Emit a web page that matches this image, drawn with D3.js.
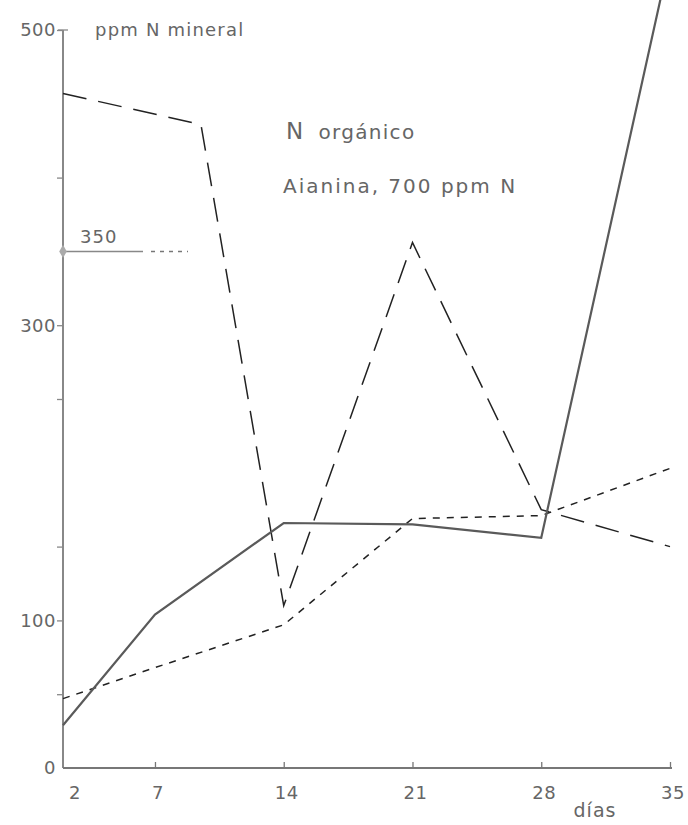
<!DOCTYPE html>
<html>
<head>
<meta charset="utf-8">
<script src="https://cdn.jsdelivr.net/npm/d3@7"></script>
<style>
  body { margin: 0; background: #fff; }
  svg { display: block; }
  .lbl { font-family: "DejaVu Sans", sans-serif; fill: #666; }
</style>
</head>
<body>
<div id="graph"></div>
<script>
// days (x) and ppm N mineral (y)
let solidDays = [2, 7, 14, 21, 28, 35];
let solidVals = [29, 104, 166, 165, 156, 550];

let shortDays = [2, 7, 14, 21, 28, 35];
let shortVals = [47, 68, 97, 169, 171, 203];

let longDays = [2, 9.5, 14, 21, 28, 35];
let longVals = [457, 436, 110, 356, 175, 150];

let xTicks = [2, 7, 14, 21, 28, 35];
let yTicks = [50, 100, 150, 250, 300, 400, 500];
let yLabels = [0, 100, 300, 500];
let refValue = 350;

window.addEventListener("load", initGraph);

function initGraph() {
    let width = 688, height = 825;

    let svg = d3.select("#graph").append("svg")
        .attr("width", width)
        .attr("height", height);

    let x = d3.scaleLinear().domain([2, 35]).range([63, 670]);
    let y = d3.scaleLinear().domain([0, 500]).range([768, 30]);

    // y axis
    let yAxis = d3.axisLeft(y)
        .tickValues(yTicks)
        .tickSize(6)
        .tickFormat("");
    let gy = svg.append("g")
        .attr("transform", `translate(${x(2)},0)`)
        .call(yAxis);
    gy.select(".domain").remove();
    gy.selectAll(".tick line").attr("stroke", "#888").attr("stroke-width", 1.3);

    svg.append("line")
        .attr("x1", x(2)).attr("x2", x(2))
        .attr("y1", y(0)).attr("y2", y(500))
        .attr("stroke", "#888").attr("stroke-width", 2);
    // little cross bar at the top
    svg.append("line")
        .attr("x1", x(2) - 5).attr("x2", x(2) + 5)
        .attr("y1", y(500)).attr("y2", y(500))
        .attr("stroke", "#888").attr("stroke-width", 1.3);

    svg.selectAll(".ylab")
        .data(yLabels)
        .enter().append("text")
        .attr("class", "lbl ylab")
        .attr("x", x(2) - 7)
        .attr("y", d => y(d))
        .attr("dy", "0.35em")
        .attr("text-anchor", "end")
        .style("font-size", "18px")
        .style("letter-spacing", "0.5px")
        .text(d => d);

    // x axis
    let xAxis = d3.axisBottom(x)
        .tickValues(xTicks.slice(1))
        .tickSize(-6)
        .tickFormat("");
    let gx = svg.append("g")
        .attr("transform", `translate(0,${y(0)})`)
        .call(xAxis);
    gx.select(".domain").remove();
    gx.selectAll(".tick line").attr("stroke", "#777").attr("stroke-width", 1.3);

    svg.append("line")
        .attr("x1", x(2)).attr("x2", x(35) + 2)
        .attr("y1", y(0)).attr("y2", y(0))
        .attr("stroke", "#777").attr("stroke-width", 1.8);

    svg.selectAll(".xlab")
        .data(xTicks)
        .enter().append("text")
        .attr("class", "lbl xlab")
        .attr("x", d => d === 2 ? x(d) + 12 : x(d) + 3)
        .attr("y", y(0) + 31)
        .attr("text-anchor", "middle")
        .style("font-size", "18px")
        .style("letter-spacing", "0.5px")
        .text(d => d);

    svg.append("text")
        .attr("class", "lbl")
        .attr("x", 595).attr("y", 817)
        .attr("text-anchor", "middle")
        .style("font-size", "19px")
        .style("letter-spacing", "1px")
        .text("días");

    svg.append("text")
        .attr("class", "lbl")
        .attr("x", 95).attr("y", 36)
        .style("font-size", "18px")
        .style("letter-spacing", "1.2px")
        .text("ppm N mineral");

    svg.append("text")
        .attr("class", "lbl")
        .attr("x", 286).attr("y", 139)
        .style("font-size", "20px")
        .style("letter-spacing", "1.3px")
        .html('<tspan style="font-size:23px">N</tspan><tspan dx="14">orgánico</tspan>');

    svg.append("text")
        .attr("class", "lbl")
        .attr("x", 283).attr("y", 193)
        .style("font-size", "20px")
        .style("letter-spacing", "2px")
        .text("Aianina, 700 ppm N");

    // reference value 350
    svg.append("line")
        .attr("x1", x(2)).attr("x2", 143)
        .attr("y1", y(refValue)).attr("y2", y(refValue))
        .attr("stroke", "#888").attr("stroke-width", 1.5);
    svg.append("line")
        .attr("x1", 151).attr("x2", 188)
        .attr("y1", y(refValue)).attr("y2", y(refValue))
        .attr("stroke", "#777").attr("stroke-width", 1.5)
        .attr("stroke-dasharray", "4,5");
    svg.append("path")
        .attr("d", d3.symbol(d3.symbolDiamond, 50)())
        .attr("transform", `translate(${x(2)},${y(refValue)})`)
        .attr("fill", "#aaa");
    svg.append("text")
        .attr("class", "lbl")
        .attr("x", 80).attr("y", y(refValue) - 8)
        .style("font-size", "18px")
        .style("letter-spacing", "1px")
        .text(refValue);

    let line = d3.line()
        .x(d => x(d[0]))
        .y(d => y(d[1]));

    svg.append("path")
        .datum(d3.zip(shortDays, shortVals))
        .attr("d", line)
        .attr("fill", "none")
        .attr("stroke", "#222")
        .attr("stroke-width", 1.5)
        .attr("stroke-dasharray", "7,7");

    svg.append("path")
        .datum(d3.zip(longDays, longVals))
        .attr("d", line)
        .attr("fill", "none")
        .attr("stroke", "#222")
        .attr("stroke-width", 1.5)
        .attr("stroke-dasharray", "24,12");

    svg.append("path")
        .datum(d3.zip(solidDays, solidVals))
        .attr("d", line)
        .attr("fill", "none")
        .attr("stroke", "#5a5a5a")
        .attr("stroke-width", 2.2);
}
</script>
</body>
</html>
